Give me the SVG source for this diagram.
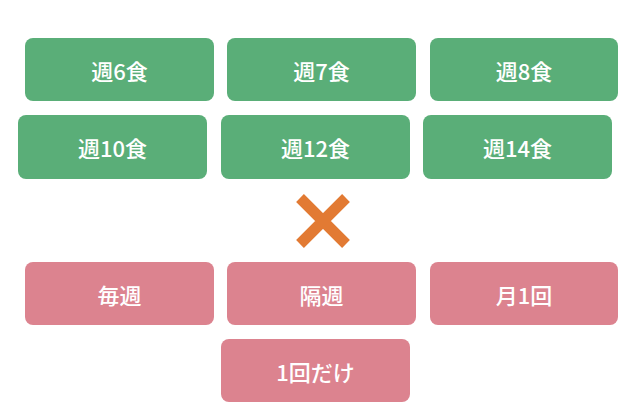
<svg xmlns="http://www.w3.org/2000/svg" width="640" height="417" viewBox="0 0 640 417">
<style>
.g{fill:#5aae78}.p{fill:#dc838f}
text{fill:#fff;font-family:"Noto Sans CJK JP","Liberation Sans",sans-serif;font-size:22px;font-weight:500;text-anchor:middle;dominant-baseline:central}
</style>
<rect width="640" height="417" fill="#fff"/>
<g id="n1"><rect class="g" x="25" y="38" width="189" height="63" rx="8"/><text x="119.5" y="70">週6食</text></g>
<g id="n2"><rect class="g" x="227" y="38" width="189" height="63" rx="8"/><text x="321.5" y="70">週7食</text></g>
<g id="n3"><rect class="g" x="430" y="38" width="188" height="63" rx="8"/><text x="524" y="70">週8食</text></g>
<g id="n4"><rect class="g" x="18" y="115" width="189" height="64" rx="8"/><text x="112.5" y="147">週10食</text></g>
<g id="n5"><rect class="g" x="221" y="115" width="189" height="64" rx="8"/><text x="315.5" y="147">週12食</text></g>
<g id="n6"><rect class="g" x="423" y="115" width="189" height="64" rx="8"/><text x="517.5" y="147">週14食</text></g>
<g id="x"><path d="M300 198 L346 244 M346 198 L300 244" stroke="#e27a33" stroke-width="11" stroke-linecap="butt"/></g>
<g id="n7"><rect class="p" x="25" y="262" width="189" height="63" rx="8"/><text x="119.5" y="294">毎週</text></g>
<g id="n8"><rect class="p" x="227" y="262" width="189" height="63" rx="8"/><text x="321.5" y="294">隔週</text></g>
<g id="n9"><rect class="p" x="430" y="262" width="188" height="63" rx="8"/><text x="524" y="294">月1回</text></g>
<g id="n10"><rect class="p" x="221" y="339" width="189" height="63" rx="8"/><text x="315.5" y="371">1回だけ</text></g>
<g id="connectors"/>
</svg>
